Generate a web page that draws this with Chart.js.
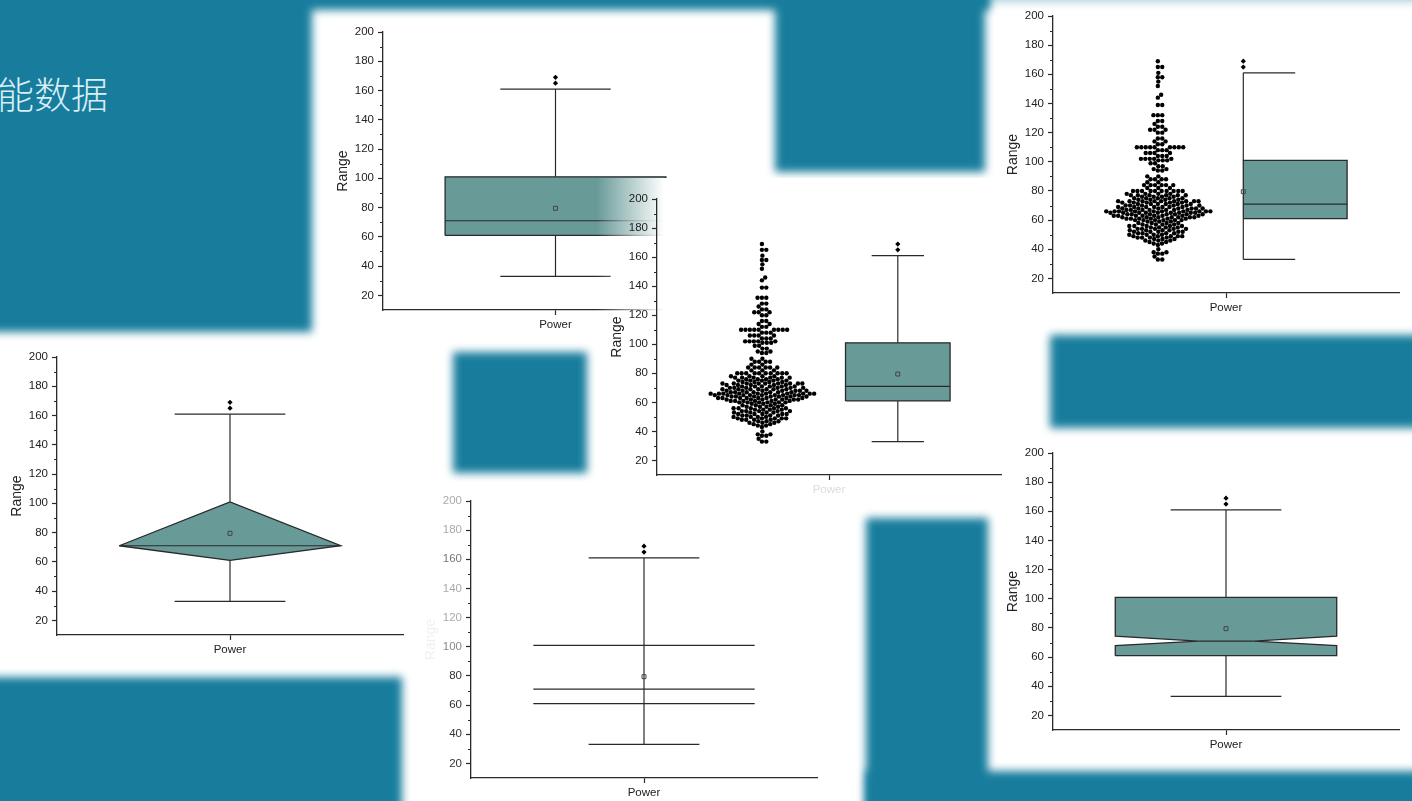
<!DOCTYPE html>
<html>
<head>
<meta charset="utf-8">
<script src="https://cdn.jsdelivr.net/npm/chart.js@4.4.1/dist/chart.umd.min.js"></script>
<style>
  html, body { margin: 0; padding: 0; }
  body { width: 1412px; height: 801px; position: relative; overflow: hidden; background: #fff; }
  .teal { position: absolute; background: #187d9d; filter: blur(4px); }
  canvas { position: absolute; }
  #fadeC { position: absolute; left: 596px; top: 178px; width: 412px; height: 324px;
           background: linear-gradient(to right, rgba(255,255,255,0) 0px, #fff 68px); }
  #slideTitle { position: absolute; left: -3px; top: 73px; white-space: nowrap;
                font: 300 37px/40px "Noto Sans CJK SC", sans-serif; color: #d8eff5; }
</style>
</head>
<body>
<!-- teal slide background pieces -->
<div class="teal" style="left:-20px;top:-20px;width:332px;height:352px"></div>
<div class="teal" style="left:300px;top:-20px;width:690px;height:30px"></div>
<div class="teal" style="left:775px;top:-20px;width:210px;height:192px"></div>
<div class="teal" style="left:985px;top:-20px;width:450px;height:22px;opacity:.35"></div>
<div class="teal" style="left:1050px;top:335px;width:380px;height:93px"></div>
<div class="teal" style="left:453px;top:352px;width:134px;height:121px"></div>
<div class="teal" style="left:-20px;top:677px;width:422px;height:140px"></div>
<div class="teal" style="left:866px;top:518px;width:122px;height:300px"></div>
<div class="teal" style="left:866px;top:771px;width:570px;height:50px"></div>

<div id="slideTitle">能数据</div>

<canvas id="chartBox"></canvas>
<div id="fadeC"></div>
<canvas id="chartSwarmBox"></canvas>
<canvas id="chartSwarmHalf"></canvas>
<canvas id="chartDiamond"></canvas>
<canvas id="chartLines"></canvas>
<canvas id="chartNotch"></canvas>

<script>
// data
const categories = ["Power"];
const yTicks = [20, 40, 60, 80, 100, 120, 140, 160, 180, 200];
const yMinorTicks = [30, 50, 70, 90, 110, 130, 150, 170, 190];
const whiskerLow = [33];
const quartile1 = [61];
const medians = [71];
const quartile3 = [101];
const whiskerHigh = [161];
const means = [79.5];
const notchLow = [67.9];
const notchHigh = [74.3];
const outliers = [165, 169];

// raw points of the swarm: value levels and how many dots sit on each
const swarmLevels = [33, 35, 37, 38, 40, 43, 44, 45, 46, 47, 48, 49, 50, 51, 52, 53, 54, 55, 56, 57, 58, 59, 60,
  61, 62, 63, 64, 65, 66, 67, 68, 69, 70,
  71, 72, 73, 74, 75, 76, 77, 78, 80, 82, 84, 86, 88, 90, 94, 95, 97, 99,
  101, 102, 104, 106, 108, 110, 112, 114, 116, 120, 122, 124, 126, 128, 132, 139, 144, 146, 152, 155, 158, 161, 165, 169];
const swarmCounts = [2, 1, 2, 2, 1, 1, 2, 2, 3, 3, 4, 5, 4, 4, 5, 4, 5, 4, 5, 4, 4, 3, 6,
  6, 7, 8, 7, 9, 10, 7, 7, 7, 6,
  6, 5, 9, 4, 5, 4, 6, 4, 10, 3, 6, 2, 4, 2, 2, 2, 2, 2,
  3, 5, 3, 4, 3, 9, 2, 2, 2, 2, 3, 2, 1, 2, 3, 2, 1, 1, 1, 1, 2, 1, 2, 1];

// look
const LINE = "#2a2a2a";
const BOX_FILL = "#689a98";
const FONT = "'Liberation Sans', Arial, sans-serif";
const Y_W = 52, X_H = 30, PAD_T = 12, PAD_R = 8;

Chart.defaults.font.family = FONT;

const swarmValues = [];
swarmLevels.forEach((v, i) => {
  for (let k = 0; k < swarmCounts[i]; k++) swarmValues.push(v);
});

// simple beeswarm: each dot goes to the free spot closest to the centre line
function beeswarm(values, centre) {
  const d = 4.4, pxX = 345, pxY = 1.458;
  const placed = [];
  [...values].sort((a, b) => a - b).forEach(v => {
    const y = v * pxY;
    const near = placed.filter(p => Math.abs(p.y - y) < d);
    const cands = [0];
    near.forEach(p => {
      const dx = Math.sqrt(d * d - (p.y - y) ** 2);
      cands.push(p.x + dx, p.x - dx);
    });
    cands.sort((a, b) => Math.abs(a) - Math.abs(b));
    const x = cands.find(c => near.every(p => (p.x - c) ** 2 + (p.y - y) ** 2 >= d * d - 0.01));
    placed.push({ x, y, v });
  });
  return placed.map(p => ({ x: centre + p.x / pxX, y: p.v }));
}

function seg(x1, y1, x2, y2) {
  return { data: [{ x: x1, y: y1 }, { x: x2, y: y2 }], showLine: true, borderColor: LINE,
           borderWidth: 1.2, pointRadius: 0, order: 2 };
}
function poly(pts) {
  return { data: pts.concat([pts[0]]).map(p => ({ x: p[0], y: p[1] })), showLine: true, fill: "shape",
           backgroundColor: BOX_FILL, borderColor: LINE, borderWidth: 1.3, pointRadius: 0, order: 3 };
}
function meanMark(x) {
  return { data: [{ x, y: means[0] }], pointStyle: "rect", pointRadius: 2.8, backgroundColor: "rgba(0,0,0,0)",
           borderColor: "#444", borderWidth: 1, order: 1 };
}
function outlierMarks(x) {
  return { data: outliers.map(v => ({ x, y: v })), pointStyle: "rectRot", pointRadius: 2.6,
           backgroundColor: "#000", borderWidth: 0, order: 1 };
}
function whiskers(x, capL, capR) {
  return [
    seg(x, quartile3[0], x, whiskerHigh[0]), seg(capL, whiskerHigh[0], capR, whiskerHigh[0]),
    seg(x, quartile1[0], x, whiskerLow[0]), seg(capL, whiskerLow[0], capR, whiskerLow[0])
  ];
}

// minor ticks on the value axis
const minorTicks = {
  id: "minorTicks",
  afterDraw(chart) {
    const y = chart.scales.y, ctx = chart.ctx;
    ctx.save();
    ctx.strokeStyle = LINE;
    ctx.lineWidth = 1;
    yMinorTicks.forEach(v => {
      const py = Math.round(y.getPixelForValue(v)) + 0.5;
      ctx.beginPath();
      ctx.moveTo(y.right - 3, py);
      ctx.lineTo(y.right, py);
      ctx.stroke();
    });
    ctx.restore();
  }
};

function drawPanel(id, g, datasets, look) {
  look = look || {};
  const cv = document.getElementById(id);
  const w = g.right - g.axisX + Y_W + PAD_R;
  const h = g.bottom - g.top + PAD_T + X_H;
  cv.width = w; cv.height = h;
  cv.style.width = w + "px"; cv.style.height = h + "px";
  cv.style.left = (g.axisX - Y_W) + "px";
  cv.style.top = (g.top - PAD_T) + "px";
  const axisGrid = { display: true, drawOnChartArea: false, drawTicks: true, tickLength: 5, tickColor: LINE, tickWidth: 1.2 };
  return new Chart(cv, {
    type: "scatter",
    data: { datasets },
    options: {
      responsive: false,
      animation: false,
      layout: { padding: { top: PAD_T, right: PAD_R, left: 0, bottom: 0 } },
      plugins: { legend: { display: false }, tooltip: { enabled: false } },
      scales: {
        x: {
          type: "linear", min: 0.5, max: 1.5,
          afterBuildTicks: s => { s.ticks = categories.map((c, i) => ({ value: i + 1 })); },
          afterFit: s => { s.height = X_H; },
          grid: axisGrid,
          border: { display: true, color: LINE, width: 1.3 },
          ticks: { padding: 3, color: look.xColor || "#222", font: { size: 11.5 },
                   callback: v => categories[Math.round(v) - 1] }
        },
        y: {
          type: "linear", min: 10, max: 200,
          afterBuildTicks: s => { s.ticks = yTicks.map(v => ({ value: v })); },
          afterFit: s => { s.width = Y_W; },
          grid: axisGrid,
          border: { display: true, color: LINE, width: 1.3 },
          ticks: { padding: 4, color: look.yColor || "#222", font: { size: 11.5 } },
          title: { display: true, text: "Range", color: look.titleColor || "#222", font: { size: 14 } }
        }
      }
    },
    plugins: [minorTicks]
  });
}

// top middle: plain box
drawPanel("chartBox", { axisX: 383, top: 32, bottom: 310, right: 728 }, [
  meanMark(1), outlierMarks(1),
  poly([[0.68, quartile1[0]], [0.68, quartile3[0]], [1.32, quartile3[0]], [1.32, quartile1[0]]]),
  seg(0.68, medians[0], 1.32, medians[0]),
  ...whiskers(1, 0.84, 1.16)
]);

// centre: swarm + box
drawPanel("chartSwarmBox", { axisX: 657, top: 199, bottom: 475, right: 1001 }, [
  { data: beeswarm(swarmValues, 0.805), pointStyle: "circle", pointRadius: 2.2, backgroundColor: "#000", borderWidth: 0, order: 1 },
  meanMark(1.2), outlierMarks(1.2),
  poly([[1.048, quartile1[0]], [1.048, quartile3[0]], [1.352, quartile3[0]], [1.352, quartile1[0]]]),
  seg(1.048, medians[0], 1.352, medians[0]),
  ...whiskers(1.2, 1.124, 1.276)
], { xColor: "#dcdcdc" });

// top right: swarm + half box
drawPanel("chartSwarmHalf", { axisX: 1053, top: 16, bottom: 293, right: 1399 }, [
  { data: beeswarm(swarmValues, 0.803), pointStyle: "circle", pointRadius: 2.2, backgroundColor: "#000", borderWidth: 0, order: 1 },
  meanMark(1.05), outlierMarks(1.05),
  poly([[1.05, quartile1[0]], [1.05, quartile3[0]], [1.35, quartile3[0]], [1.35, quartile1[0]]]),
  seg(1.05, medians[0], 1.35, medians[0]),
  ...whiskers(1.05, 1.05, 1.2)
]);

// left: diamond
drawPanel("chartDiamond", { axisX: 57, top: 357, bottom: 635, right: 403 }, [
  meanMark(1), outlierMarks(1),
  poly([[0.68, medians[0]], [1, quartile3[0]], [1.32, medians[0]], [1, quartile1[0]]]),
  seg(0.68, medians[0], 1.32, medians[0]),
  ...whiskers(1, 0.84, 1.16)
]);

// bottom middle: lines only
drawPanel("chartLines", { axisX: 471, top: 501, bottom: 778, right: 817 }, [
  meanMark(1), outlierMarks(1),
  seg(0.68, quartile1[0], 1.32, quartile1[0]),
  seg(0.68, medians[0], 1.32, medians[0]),
  seg(0.68, quartile3[0], 1.32, quartile3[0]),
  seg(1, whiskerLow[0], 1, whiskerHigh[0]),
  seg(0.84, whiskerHigh[0], 1.16, whiskerHigh[0]),
  seg(0.84, whiskerLow[0], 1.16, whiskerLow[0])
], {
  titleColor: "#f0f0f0",
  yColor: c => c.tick.value >= 180 ? "#aaa" : c.tick.value === 160 ? "#777" : c.tick.value >= 120 ? "#aaa" : c.tick.value === 100 ? "#888" : "#333"
});

// bottom right: notched box
drawPanel("chartNotch", { axisX: 1053, top: 453, bottom: 730, right: 1399 }, [
  meanMark(1), outlierMarks(1),
  poly([[0.68, quartile1[0]], [0.68, notchLow[0]], [0.92, medians[0]], [0.68, notchHigh[0]], [0.68, quartile3[0]],
        [1.32, quartile3[0]], [1.32, notchHigh[0]], [1.08, medians[0]], [1.32, notchLow[0]], [1.32, quartile1[0]]]),
  seg(0.92, medians[0], 1.08, medians[0]),
  ...whiskers(1, 0.84, 1.16)
]);
</script>
</body>
</html>
